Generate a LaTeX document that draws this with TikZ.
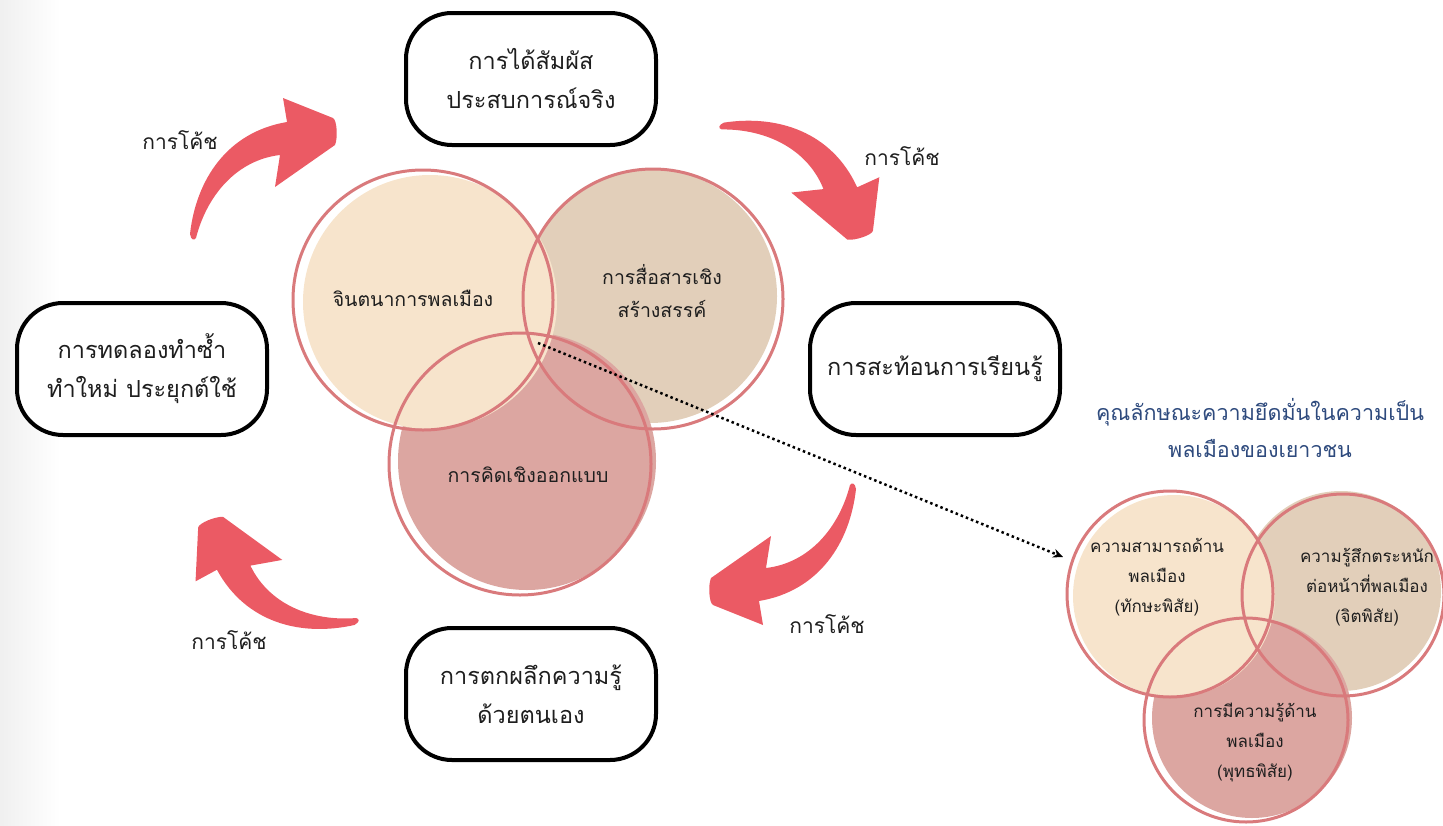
\documentclass[tikz,border=0pt]{standalone}
\usepackage{fontspec}
\newfontfamily\thaifont[Script=Thai]{Loma}
\usetikzlibrary{arrows.meta}

\definecolor{coachred}{HTML}{EB5A64}
\definecolor{ringred}{HTML}{D97A7C}
\definecolor{creamfill}{HTML}{F7E4CC}
\definecolor{tanfill}{HTML}{E2CFBA}
\definecolor{rosefill}{HTML}{DCA6A1}
\definecolor{titleblue}{HTML}{2E4A7D}
\definecolor{inkgray}{HTML}{1E1E1E}

% one curved coaching arrow, drawn round its own centre
\newcommand{\coacharrow}{%
  \fill[coachred] (-72,74) .. controls (-66,20) and (-35,-28) .. (25,-38)
    -- (21,-62) -- (71,-42) .. controls (75,-40) and (76,-22) .. (73,-15)
    -- (13,27) -- (18,-5) .. controls (-25,0) and (-55,35) .. (-66,78)
    .. controls (-68,81) and (-71,80) .. cycle;}

\begin{document}
\begin{tikzpicture}[x=1pt, y=-1pt,
    stage/.style={draw=black, line width=4pt, fill=white, rounded corners=46pt,
      minimum width=250pt, minimum height=132pt, align=center, text=inkgray,
      font=\thaifont\fontsize{23.5}{39}\selectfont},
    venntext/.style={align=center, text=inkgray, font=\thaifont\fontsize{19.5}{33}\selectfont},
    traittext/.style={align=center, text=inkgray, font=\thaifont\fontsize{17}{30}\selectfont},
    coachtext/.style={text=inkgray, font=\thaifont\fontsize{21}{30}\selectfont},
    ring/.style={draw=ringred, line width=3pt}]

    \useasboundingbox (0,0) rectangle (1443,825);
    \shade[left color=black!6, right color=white] (0,0) rectangle (60,825);

    %Arrows
    \begin{scope}[shift={(262,160)}]\coacharrow\end{scope}
    \begin{scope}[shift={(814,173)}, rotate=-75]\coacharrow\end{scope}
    \begin{scope}[shift={(784,563)}, rotate=-180]\coacharrow\end{scope}
    \begin{scope}[shift={(261,581)}, rotate=-251]\coacharrow\end{scope}

    %Circles
    \fill[tanfill]   (650,296) circle (127);
    \fill[rosefill]  (527,461) circle (129);
    \fill[creamfill] (430,302) circle (127);
    \draw[ring] (423,300) circle (130);
    \draw[ring] (653,299) circle (130);
    \draw[ring] (520,464) circle (131);

    \fill[tanfill]   (1341,591) circle (100);
    \fill[rosefill]  (1252,718) circle (100);
    \fill[creamfill] (1174,596) circle (101);
    \draw[ring] (1170,594) circle (103);
    \draw[ring] (1343,595) circle (101);
    \draw[ring] (1246,720) circle (102);

    %Nodes
    \node[stage] at (531,79)  (touch)   {การได้สัมผัส\\ประสบการณ์จริง};
    \node[stage] at (935,369) (reflect) {การสะท้อนการเรียนรู้};
    \node[stage] at (531,694) (distil)  {การตกผลึกความรู้\\ด้วยตนเอง};
    \node[stage] at (142,369) (retry)   {การทดลองทำซ้ำ\\ทำใหม่ ประยุกต์ใช้};

    \node[coachtext] at (180,140) (coach1) {การโค้ช};
    \node[coachtext] at (902,156) (coach2) {การโค้ช};
    \node[coachtext] at (827,624) (coach3) {การโค้ช};
    \node[coachtext] at (229,640) (coach4) {การโค้ช};

    \node[venntext] at (413,298) (imagine) {จินตนาการพลเมือง};
    \node[venntext] at (662,291) (commun)  {การสื่อสารเชิง\\สร้างสรรค์};
    \node[venntext] at (528,475) (design)  {การคิดเชิงออกแบบ};

    \node[align=center, text=titleblue, font=\thaifont\fontsize{21.5}{37}\selectfont]
      at (1260,428) (title) {คุณลักษณะความยึดมั่นในความเป็น\\พลเมืองของเยาวชน};

    \node[traittext] at (1157,577) (skill) {ความสามารถด้าน\\พลเมือง\\(ทักษะพิสัย)};
    \node[traittext] at (1367,587) (mind)  {ความรู้สึกตระหนัก\\ต่อหน้าที่พลเมือง\\(จิตพิสัย)};
    \node[traittext] at (1255,743) (know)  {การมีความรู้ด้าน\\พลเมือง\\(พุทธพิสัย)};

    \coordinate (core) at (538,343);
    \coordinate (skillrim) at (1063,557);

    %Lines
    \draw[line width=2.5pt, dash pattern=on 2.5pt off 3pt, -{Stealth[length=10pt, width=9pt]}]
      (core) -- (skillrim);
\end{tikzpicture}
\end{document}
